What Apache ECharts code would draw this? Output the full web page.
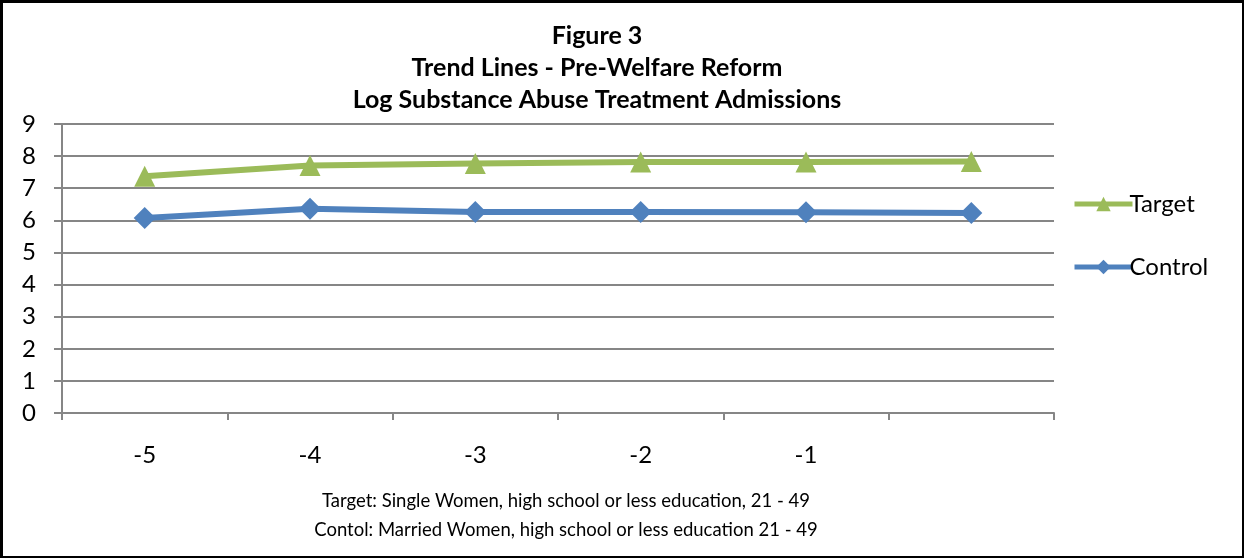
<!DOCTYPE html>
<html>
<head>
<meta charset="utf-8">
<script src="https://cdn.jsdelivr.net/npm/echarts@6/dist/echarts.min.js"></script>
<style>
  html, body { margin: 0; padding: 0; background: #fff; }
  #chart { width: 1244px; height: 558px; box-sizing: border-box; border: 2px solid #000; border-top-width: 3px; border-left-width: 3px; }
</style>
</head>
<body>
<div id="chart"></div>
<script>
// years relative to welfare reform; last category has no label
const categories = ['-5', '-4', '-3', '-2', '-1', ''];
const targetValues = [7.37, 7.71, 7.77, 7.82, 7.82, 7.83];
const controlValues = [6.07, 6.36, 6.26, 6.26, 6.25, 6.23];
const yMin = 0, yMax = 9, yStep = 1;

const font = 'Lato, "Open Sans", sans-serif';
const gray = '#868686';

const chart = echarts.init(document.getElementById('chart'));
const option = {
    animation: false,
    textStyle: { fontFamily: font },
    title: [
        {
            text: 'Figure 3\nTrend Lines - Pre-Welfare Reform\nLog Substance Abuse Treatment Admissions',
            left: 589,
            top: 12,
            textAlign: 'center',
            textStyle: { fontFamily: font, fontSize: 25, fontWeight: 'bold', color: '#000', lineHeight: 32 }
        },
        {
            text: 'Target: Single Women, high school or less education, 21 - 49\nContol: Married Women, high school or less education 21 - 49',
            left: 558,
            top: 479,
            textAlign: 'center',
            textStyle: { fontFamily: font, fontSize: 18.5, fontWeight: 'normal', color: '#000', lineHeight: 29 }
        }
    ],
    legend: {
        orient: 'vertical',
        left: 1064,
        top: 184,
        itemGap: 39,
        itemWidth: 58,
        itemHeight: 18,
        data: ['Target', 'Control'],
        lineStyle: { width: 5 },
        textStyle: { fontFamily: font, fontSize: 24, color: '#000', padding: [0, 0, 0, -8] }
    },
    grid: { left: 59, right: 188, top: 121, bottom: 143 },
    xAxis: {
        type: 'category',
        data: categories,
        boundaryGap: true,
        axisLine: { lineStyle: { color: gray, width: 2 } },
        axisTick: { show: true, interval: 0, length: 7, lineStyle: { color: gray, width: 2 } },
        axisLabel: { color: '#000', fontSize: 24, margin: 30, fontFamily: font, interval: 0 },
        splitLine: { show: false }
    },
    yAxis: {
        type: 'value',
        min: yMin,
        max: yMax,
        interval: yStep,
        axisLine: { show: true, lineStyle: { color: gray, width: 2 } },
        axisTick: { show: true, length: 8, lineStyle: { color: gray, width: 2 } },
        axisLabel: { color: '#000', fontSize: 24, margin: 26, fontFamily: font },
        splitLine: { lineStyle: { color: gray, width: 2 } }
    },
    series: [
        {
            name: 'Target',
            type: 'line',
            data: targetValues,
            symbol: 'triangle',
            symbolSize: 21,
            color: '#9BBB59',
            lineStyle: { width: 6, color: '#9BBB59' },
            itemStyle: { color: '#9BBB59' }
        },
        {
            name: 'Control',
            type: 'line',
            data: controlValues,
            symbol: 'diamond',
            symbolSize: 22,
            color: '#4F81BD',
            lineStyle: { width: 6, color: '#4F81BD' },
            itemStyle: { color: '#4F81BD' }
        }
    ]
};
chart.setOption(option);
</script>
</body>
</html>
